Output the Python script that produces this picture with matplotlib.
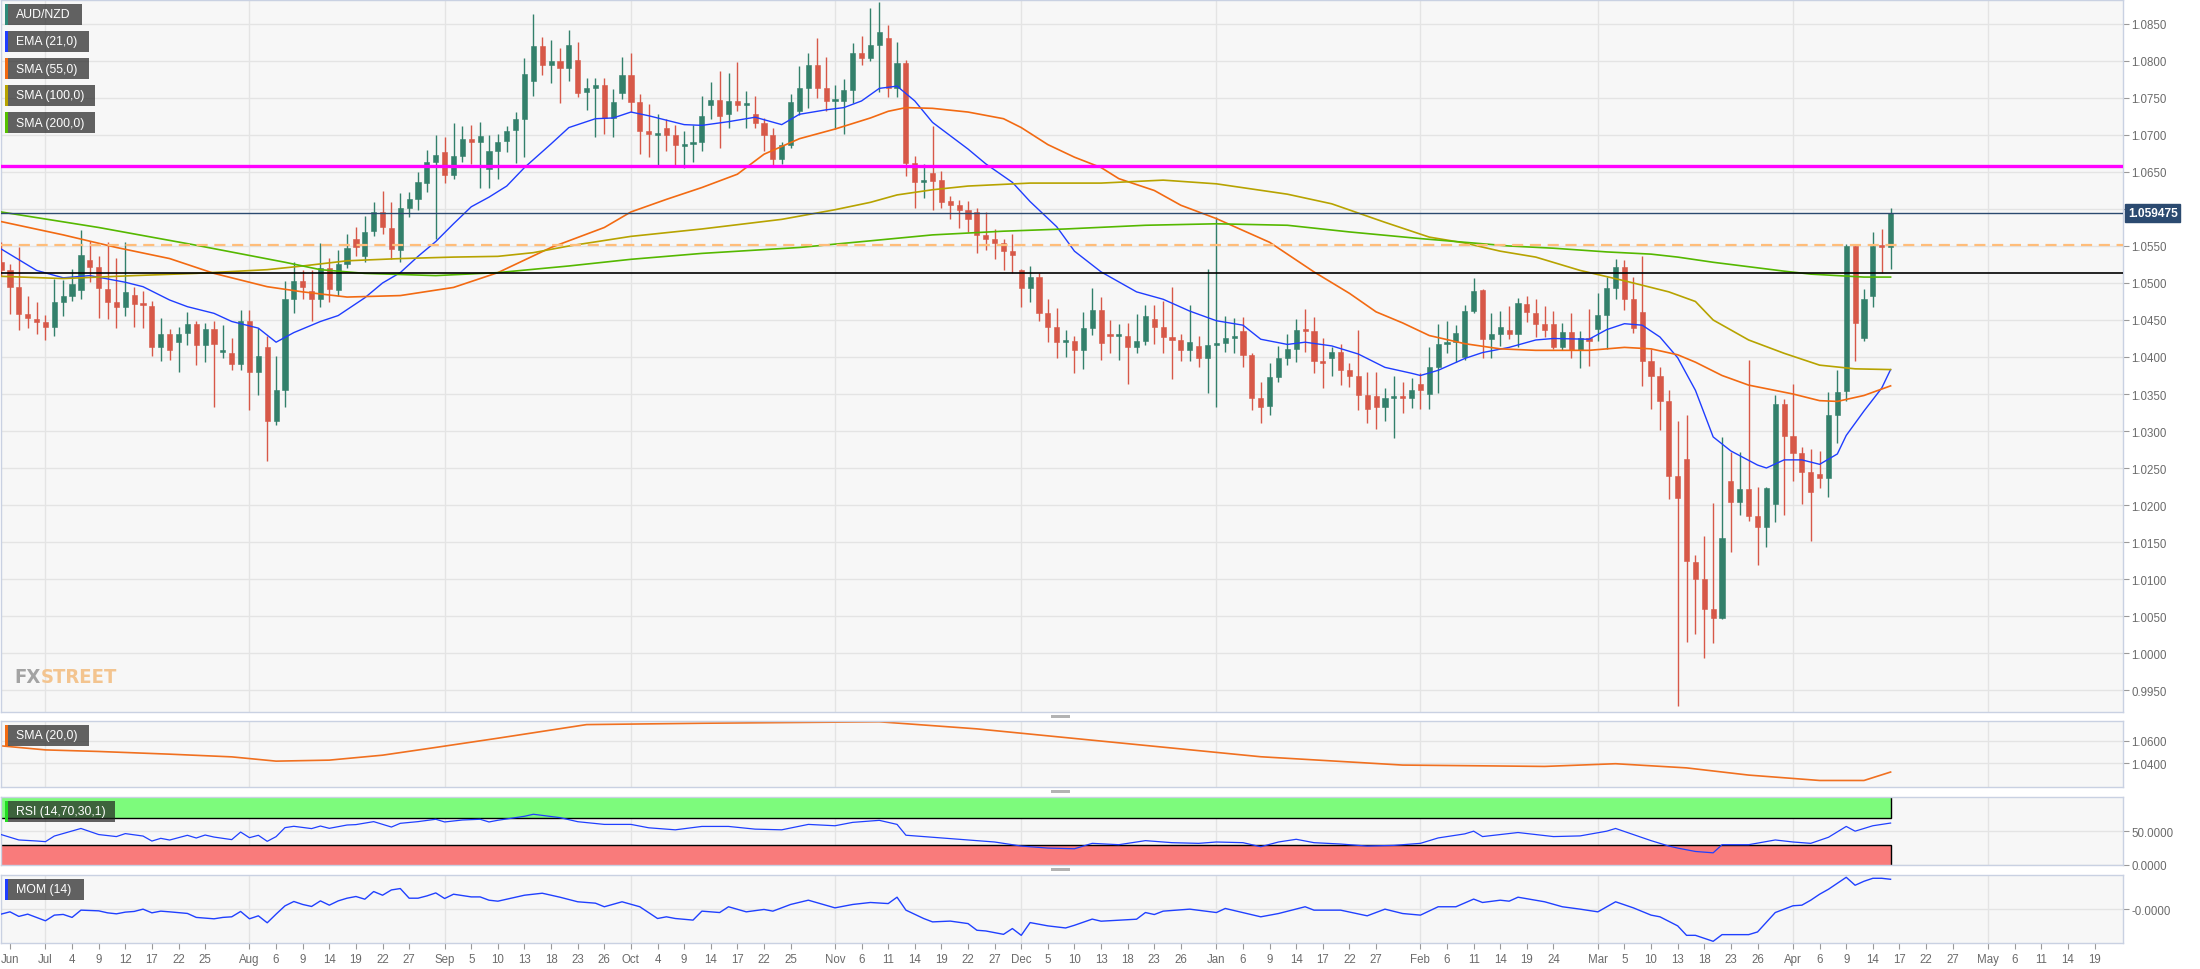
import numpy as np
import pandas as pd
import matplotlib
matplotlib.use("Agg")
import matplotlib.pyplot as plt
from matplotlib.patches import Rectangle

plt.rcParams["font.family"] = ["Liberation Sans", "DejaVu Sans"]

# ---- data (daily AUD/NZD, weekdays from 2019-06-24) ----
days = pd.bdate_range("2019-06-24", periods=240)

opens = [1.0528, 1.0518, 1.0494, 1.0458, 1.0452, 1.0447, 1.0441, 1.0474, 1.0483, 1.0490,
         1.0531, 1.0522, 1.0492, 1.0474, 1.0467, 1.0484, 1.0471, 1.0469, 1.0413, 1.0431,
         1.0420, 1.0432, 1.0444, 1.0416, 1.0438, 1.0407, 1.0406, 1.0391, 1.0449, 1.0380,
         1.0413, 1.0314, 1.0356, 1.0478, 1.0503, 1.0489, 1.0479, 1.0520, 1.0491, 1.0525,
         1.0560, 1.0537, 1.0570, 1.0596, 1.0574, 1.0544, 1.0601, 1.0614, 1.0635, 1.0663,
         1.0677, 1.0646, 1.0672, 1.0694, 1.0691, 1.0654, 1.0679, 1.0692, 1.0707, 1.0722,
         1.0773, 1.0820, 1.0795, 1.0800, 1.0791, 1.0801, 1.0758, 1.0763, 1.0767, 1.0723,
         1.0757, 1.0781, 1.0744, 1.0705, 1.0700, 1.0709, 1.0700, 1.0685, 1.0688, 1.0691,
         1.0741, 1.0747, 1.0728, 1.0746, 1.0741, 1.0728, 1.0716, 1.0700, 1.0668, 1.0687,
         1.0732, 1.0764, 1.0794, 1.0764, 1.0746, 1.0746, 1.0761, 1.0811, 1.0804, 1.0822,
         1.0831, 1.0763, 1.0797, 1.0662, 1.0636, 1.0648, 1.0639, 1.0611, 1.0606, 1.0599,
         1.0596, 1.0565, 1.0560, 1.0554, 1.0543, 1.0518, 1.0493, 1.0508, 1.0460, 1.0441,
         1.0420, 1.0421, 1.0409, 1.0439, 1.0463, 1.0430, 1.0428, 1.0429, 1.0413, 1.0422,
         1.0451, 1.0441, 1.0427, 1.0423, 1.0410, 1.0415, 1.0399, 1.0416, 1.0419, 1.0425,
         1.0435, 1.0403, 1.0345, 1.0334, 1.0373, 1.0398, 1.0411, 1.0437, 1.0435, 1.0394,
         1.0398, 1.0407, 1.0382, 1.0374, 1.0348, 1.0347, 1.0332, 1.0344, 1.0346, 1.0344,
         1.0363, 1.0350, 1.0387, 1.0418, 1.0420, 1.0400, 1.0462, 1.0490, 1.0424, 1.0431,
         1.0437, 1.0431, 1.0472, 1.0459, 1.0444, 1.0444, 1.0414, 1.0434, 1.0410, 1.0425,
         1.0438, 1.0457, 1.0493, 1.0521, 1.0478, 1.0461, 1.0395, 1.0374, 1.0341, 1.0239,
         1.0262, 1.0123, 1.0100, 1.0060, 1.0047, 1.0232, 1.0204, 1.0221, 1.0185, 1.0170,
         1.0201, 1.0336, 1.0293, 1.0270, 1.0244, 1.0242, 1.0237, 1.0322, 1.0354, 1.0550,
         1.0425, 1.0483, 1.0550, 1.0549]
highs = [1.0556, 1.0525, 1.0548, 1.0483, 1.0474, 1.0457, 1.0506, 1.0504, 1.0519, 1.0572,
         1.0557, 1.0536, 1.0555, 1.0534, 1.0555, 1.0495, 1.0489, 1.0475, 1.0453, 1.0438,
         1.0441, 1.0461, 1.0448, 1.0446, 1.0448, 1.0443, 1.0425, 1.0464, 1.0463, 1.0439,
         1.0428, 1.0401, 1.0503, 1.0528, 1.0518, 1.0518, 1.0554, 1.0534, 1.0545, 1.0566,
         1.0576, 1.0590, 1.0609, 1.0624, 1.0609, 1.0621, 1.0623, 1.0650, 1.0680, 1.0700,
         1.0697, 1.0716, 1.0712, 1.0714, 1.0717, 1.0700, 1.0701, 1.0712, 1.0731, 1.0804,
         1.0864, 1.0833, 1.0829, 1.0817, 1.0842, 1.0825, 1.0777, 1.0777, 1.0777, 1.0762,
         1.0805, 1.0811, 1.0756, 1.0742, 1.0728, 1.0721, 1.0714, 1.0705, 1.0713, 1.0753,
         1.0771, 1.0787, 1.0784, 1.0799, 1.0760, 1.0753, 1.0723, 1.0710, 1.0690, 1.0756,
         1.0793, 1.0811, 1.0831, 1.0806, 1.0767, 1.0776, 1.0824, 1.0834, 1.0871, 1.0880,
         1.0848, 1.0826, 1.0801, 1.0672, 1.0661, 1.0712, 1.0652, 1.0618, 1.0612, 1.0611,
         1.0602, 1.0596, 1.0573, 1.0560, 1.0566, 1.0519, 1.0523, 1.0514, 1.0479, 1.0466,
         1.0436, 1.0429, 1.0461, 1.0493, 1.0481, 1.0450, 1.0444, 1.0446, 1.0458, 1.0470,
         1.0470, 1.0475, 1.0495, 1.0431, 1.0470, 1.0429, 1.0519, 1.0589, 1.0456, 1.0453,
         1.0454, 1.0405, 1.0366, 1.0392, 1.0415, 1.0431, 1.0452, 1.0465, 1.0454, 1.0426,
         1.0414, 1.0418, 1.0392, 1.0436, 1.0380, 1.0380, 1.0358, 1.0375, 1.0366, 1.0372,
         1.0379, 1.0414, 1.0444, 1.0448, 1.0443, 1.0470, 1.0507, 1.0492, 1.0459, 1.0462,
         1.0469, 1.0480, 1.0483, 1.0479, 1.0469, 1.0462, 1.0446, 1.0460, 1.0435, 1.0465,
         1.0486, 1.0508, 1.0533, 1.0531, 1.0508, 1.0536, 1.0411, 1.0386, 1.0355, 1.0314,
         1.0322, 1.0132, 1.0158, 1.0203, 1.0292, 1.0272, 1.0272, 1.0396, 1.0224, 1.0224,
         1.0348, 1.0343, 1.0363, 1.0279, 1.0276, 1.0273, 1.0353, 1.0383, 1.0553, 1.0551,
         1.0492, 1.0569, 1.0573, 1.0601]
lows = [1.0509, 1.0458, 1.0437, 1.0439, 1.0431, 1.0423, 1.0429, 1.0455, 1.0475, 1.0479,
        1.0502, 1.0453, 1.0452, 1.0439, 1.0456, 1.0441, 1.0439, 1.0401, 1.0395, 1.0396,
        1.0380, 1.0416, 1.0389, 1.0393, 1.0332, 1.0399, 1.0383, 1.0382, 1.0329, 1.0348,
        1.0260, 1.0308, 1.0332, 1.0459, 1.0478, 1.0449, 1.0468, 1.0474, 1.0483, 1.0520,
        1.0537, 1.0529, 1.0564, 1.0566, 1.0533, 1.0528, 1.0589, 1.0598, 1.0623, 1.0560,
        1.0635, 1.0640, 1.0664, 1.0661, 1.0628, 1.0628, 1.0640, 1.0677, 1.0662, 1.0670,
        1.0753, 1.0781, 1.0770, 1.0743, 1.0773, 1.0751, 1.0734, 1.0697, 1.0701, 1.0697,
        1.0749, 1.0731, 1.0674, 1.0670, 1.0660, 1.0678, 1.0660, 1.0655, 1.0663, 1.0678,
        1.0722, 1.0682, 1.0710, 1.0733, 1.0710, 1.0709, 1.0678, 1.0660, 1.0661, 1.0683,
        1.0727, 1.0737, 1.0750, 1.0732, 1.0708, 1.0702, 1.0743, 1.0794, 1.0800, 1.0758,
        1.0752, 1.0751, 1.0644, 1.0601, 1.0615, 1.0598, 1.0601, 1.0586, 1.0574, 1.0569,
        1.0541, 1.0545, 1.0533, 1.0517, 1.0514, 1.0467, 1.0474, 1.0448, 1.0420, 1.0398,
        1.0400, 1.0378, 1.0384, 1.0430, 1.0396, 1.0406, 1.0396, 1.0363, 1.0406, 1.0416,
        1.0417, 1.0406, 1.0370, 1.0394, 1.0394, 1.0387, 1.0351, 1.0332, 1.0407, 1.0405,
        1.0387, 1.0329, 1.0311, 1.0321, 1.0366, 1.0389, 1.0393, 1.0407, 1.0379, 1.0358,
        1.0375, 1.0362, 1.0360, 1.0328, 1.0311, 1.0303, 1.0313, 1.0291, 1.0325, 1.0331,
        1.0330, 1.0330, 1.0352, 1.0406, 1.0393, 1.0396, 1.0460, 1.0398, 1.0398, 1.0415,
        1.0424, 1.0414, 1.0447, 1.0427, 1.0427, 1.0411, 1.0409, 1.0398, 1.0385, 1.0388,
        1.0421, 1.0411, 1.0478, 1.0464, 1.0432, 1.0361, 1.0330, 1.0302, 1.0208, 0.9928,
        1.0015, 1.0026, 0.9993, 1.0014, 1.0046, 1.0137, 1.0186, 1.0179, 1.0119, 1.0143,
        1.0177, 1.0187, 1.0232, 1.0201, 1.0151, 1.0223, 1.0211, 1.0284, 1.0340, 1.0394,
        1.0421, 1.0468, 1.0513, 1.0519]
closes = [1.0518, 1.0494, 1.0458, 1.0453, 1.0447, 1.0441, 1.0474, 1.0483, 1.0499, 1.0538,
          1.0522, 1.0493, 1.0474, 1.0467, 1.0488, 1.0471, 1.0470, 1.0413, 1.0431, 1.0409,
          1.0431, 1.0444, 1.0416, 1.0438, 1.0418, 1.0408, 1.0391, 1.0448, 1.0380, 1.0402,
          1.0314, 1.0356, 1.0478, 1.0503, 1.0494, 1.0479, 1.0520, 1.0492, 1.0525, 1.0547,
          1.0549, 1.0569, 1.0596, 1.0575, 1.0546, 1.0601, 1.0614, 1.0636, 1.0663, 1.0673,
          1.0646, 1.0671, 1.0694, 1.0691, 1.0699, 1.0679, 1.0691, 1.0706, 1.0722, 1.0782,
          1.0820, 1.0794, 1.0800, 1.0791, 1.0822, 1.0757, 1.0763, 1.0768, 1.0723, 1.0745,
          1.0781, 1.0744, 1.0705, 1.0701, 1.0702, 1.0700, 1.0686, 1.0688, 1.0690, 1.0725,
          1.0747, 1.0726, 1.0746, 1.0741, 1.0742, 1.0716, 1.0700, 1.0668, 1.0687, 1.0744,
          1.0764, 1.0794, 1.0764, 1.0746, 1.0747, 1.0761, 1.0811, 1.0804, 1.0822, 1.0839,
          1.0763, 1.0797, 1.0662, 1.0636, 1.0637, 1.0638, 1.0610, 1.0606, 1.0599, 1.0586,
          1.0565, 1.0560, 1.0554, 1.0543, 1.0538, 1.0493, 1.0508, 1.0460, 1.0441, 1.0420,
          1.0421, 1.0409, 1.0439, 1.0464, 1.0419, 1.0428, 1.0430, 1.0413, 1.0422, 1.0455,
          1.0441, 1.0427, 1.0423, 1.0410, 1.0420, 1.0399, 1.0416, 1.0419, 1.0425, 1.0427,
          1.0403, 1.0345, 1.0332, 1.0373, 1.0398, 1.0411, 1.0437, 1.0435, 1.0394, 1.0392,
          1.0407, 1.0382, 1.0374, 1.0348, 1.0330, 1.0332, 1.0344, 1.0346, 1.0344, 1.0356,
          1.0356, 1.0387, 1.0418, 1.0420, 1.0432, 1.0462, 1.0489, 1.0424, 1.0431, 1.0440,
          1.0431, 1.0473, 1.0461, 1.0444, 1.0436, 1.0414, 1.0434, 1.0410, 1.0425, 1.0422,
          1.0457, 1.0493, 1.0521, 1.0478, 1.0439, 1.0395, 1.0375, 1.0341, 1.0239, 1.0209,
          1.0124, 1.0100, 1.0060, 1.0047, 1.0155, 1.0204, 1.0221, 1.0185, 1.0170, 1.0223,
          1.0336, 1.0293, 1.0270, 1.0244, 1.0218, 1.0237, 1.0322, 1.0353, 1.0550, 1.0446,
          1.0478, 1.0550, 1.0548, 1.0595]
last_price = 1.059475

# moving averages (day number, value)
ema21_day = [0, 4, 7, 10, 14, 16, 19, 21, 24, 26, 29, 31, 33, 36, 38, 41, 43, 45, 47, 49, 51, 53, 55, 57, 59,
             62, 64, 67, 69, 71, 73, 75, 77, 79, 82, 85, 88, 90, 93, 95, 97, 99, 101, 103, 105, 109, 111, 114,
             116, 119, 121, 124, 128, 131, 134, 137, 140, 142, 145, 147, 150, 153, 156, 159, 160, 162, 165,
             167, 170, 173, 175, 179, 181, 183, 185, 187, 189, 191, 193, 195, 198, 199, 201, 203, 205, 207,
             208, 210, 212, 213]
ema21_val = [1.0546, 1.0517, 1.0507, 1.0510, 1.0501, 1.0495, 1.0477, 1.0468, 1.0459, 1.0448, 1.0439, 1.0420,
             1.0433, 1.0448, 1.0456, 1.0480, 1.0500, 1.0514, 1.0536, 1.0556, 1.0580, 1.0603, 1.0616, 1.0631,
             1.0656, 1.0688, 1.0710, 1.0722, 1.0723, 1.0731, 1.0726, 1.0720, 1.0714, 1.0713, 1.0718, 1.0724,
             1.0714, 1.0728, 1.0734, 1.0737, 1.0746, 1.0763, 1.0766, 1.0746, 1.0717, 1.0681, 1.0661, 1.0636,
             1.0610, 1.0576, 1.0543, 1.0515, 1.0488, 1.0478, 1.0462, 1.0449, 1.0443, 1.0424, 1.0417, 1.0420,
             1.0415, 1.0404, 1.0386, 1.0378, 1.0375, 1.0382, 1.0398, 1.0406, 1.0413, 1.0423, 1.0425, 1.0424,
             1.0437, 1.0445, 1.0443, 1.0427, 1.0399, 1.0355, 1.0292, 1.0273, 1.0254, 1.0250, 1.0261, 1.0261,
             1.0255, 1.0269, 1.0294, 1.0327, 1.0358, 1.0383]
sma55_day = [0, 7, 13, 19, 24, 30, 34, 39, 45, 51, 56, 62, 68, 71, 75, 79, 83, 86, 90, 94, 98, 100, 102, 105,
             109, 113, 115, 118, 121, 124, 126, 130, 133, 137, 143, 148, 152, 155, 158, 161, 165, 169, 173,
             179, 183, 186, 189, 191, 194, 197, 202, 205, 207, 210, 213]
sma55_val = [1.0583, 1.0565, 1.0548, 1.0533, 1.0513, 1.0495, 1.0488, 1.0481, 1.0483, 1.0494, 1.0514, 1.0548,
             1.0575, 1.0596, 1.0613, 1.0629, 1.0647, 1.0674, 1.0695, 1.0708, 1.0723, 1.0732, 1.0737, 1.0736,
             1.0731, 1.0722, 1.0710, 1.0687, 1.0670, 1.0656, 1.0641, 1.0625, 1.0605, 1.0587, 1.0555, 1.0515,
             1.0486, 1.0461, 1.0446, 1.0429, 1.0418, 1.0411, 1.0409, 1.0409, 1.0413, 1.0411, 1.0403, 1.0393,
             1.0375, 1.0362, 1.0350, 1.0341, 1.0340, 1.0348, 1.0361]
sma100_day = [0, 7, 15, 22, 30, 34, 39, 45, 51, 56, 60, 64, 71, 79, 88, 94, 98, 101, 105, 109, 116, 124, 131,
              137, 145, 150, 156, 161, 165, 169, 173, 178, 183, 188, 191, 193, 197, 201, 205, 209, 213]
sma100_val = [1.0509, 1.0506, 1.0510, 1.0513, 1.0518, 1.0523, 1.0530, 1.0533, 1.0535, 1.0536, 1.0541, 1.0550,
              1.0563, 1.0573, 1.0586, 1.0599, 1.0609, 1.0619, 1.0626, 1.0631, 1.0635, 1.0635, 1.0639, 1.0634,
              1.0620, 1.0607, 1.0582, 1.0562, 1.0554, 1.0543, 1.0535, 1.0517, 1.0503, 1.0488, 1.0475, 1.0450,
              1.0423, 1.0405, 1.0389, 1.0384, 1.0383]
sma200_day = [0, 11, 22, 32, 36, 41, 49, 56, 64, 71, 79, 90, 98, 105, 113, 120, 129, 137, 145, 152, 160, 165,
              170, 175, 181, 186, 189, 193, 197, 201, 204, 207, 210, 213]
sma200_val = [1.0596, 1.0575, 1.0551, 1.0528, 1.0518, 1.0513, 1.0510, 1.0514, 1.0523, 1.0532, 1.0540, 1.0548,
              1.0557, 1.0565, 1.0570, 1.0573, 1.0578, 1.0580, 1.0578, 1.0569, 1.0560, 1.0555, 1.0550, 1.0547,
              1.0542, 1.0539, 1.0535, 1.0528, 1.0522, 1.0516, 1.0512, 1.0510, 1.0508, 1.0508]

# horizontal levels
level_magenta = 1.06577
level_dashed = 1.0551
level_black = 1.0514

# lower panels
sma20_day = [0, 5, 11, 19, 26, 31, 37, 43, 49, 56, 66, 79, 99, 110, 126, 142, 158, 174, 182, 190, 197,
             205, 210, 213]
sma20_val = [1.0556, 1.0520, 1.0506, 1.0482, 1.0458, 1.0420, 1.0429, 1.0473, 1.0542, 1.0624, 1.0745, 1.0757,
             1.0770, 1.0707, 1.0583, 1.0459, 1.0385, 1.0373, 1.0397, 1.0360, 1.0296, 1.0248, 1.0248, 1.0323]
rsi_day = [0, 2, 4, 5, 6, 9, 11, 13, 14, 16, 17, 18, 19, 21, 22, 23, 24, 26, 27, 28, 29, 30, 31, 32, 33,
           35, 36, 37, 39, 40, 42, 44, 45, 47, 49, 50, 52, 54, 55, 56, 59, 60, 63, 65, 68, 71, 73, 76, 79,
           82, 85, 88, 91, 94, 96, 99, 101, 102, 104, 106, 109, 112, 115, 118, 121, 123, 126, 129, 132,
           135, 137, 140, 142, 144, 146, 148, 151, 154, 157, 160, 162, 165, 166, 167, 171, 175, 178, 181,
           182, 184, 186, 188, 189, 191, 193, 194, 197, 200, 202, 204, 206, 208, 209, 211, 213]
rsi_val = [45, 37, 35.5, 34.5, 42.8, 54, 45, 42, 46.4, 42.8, 35.4, 39.4, 36.9, 43.9, 39.9, 44.3, 41.3, 37.5,
           48.7, 40.4, 43.9, 35, 41.9, 55.2, 57.2, 53.8, 57.6, 54.2, 59.1, 59.7, 64.1, 56.1, 61.6, 64.1,
           67.6, 63.6, 66.5, 67.6, 63.6, 66.1, 72, 75, 70, 64, 60, 60, 55, 52, 57, 57, 53, 52, 60, 58, 63,
           66, 60, 44, 42, 40, 37, 34, 28, 25, 24, 32, 30, 36, 33, 32, 34, 33, 27, 34, 38, 33, 31, 28, 29,
           32, 40, 46, 50, 42, 48, 42, 43, 50, 54, 45, 36, 28, 25, 20, 18, 30, 30, 37, 34, 32, 41, 57, 50,
           58, 62]
mom_day = [0, 1, 2, 3, 5, 6, 7, 8, 9, 11, 12, 13, 14, 15, 16, 17, 18, 19, 21, 22, 24, 25, 26, 27, 28, 29,
           30, 31, 32, 33, 34, 35, 36, 37, 38, 39, 40, 41, 42, 43, 44, 45, 46, 47, 48, 49, 50, 51, 53, 54,
           55, 56, 57, 59, 61, 63, 65, 67, 68, 70, 72, 74, 75, 76, 78, 79, 81, 82, 84, 86, 87, 89, 91, 94,
           96, 98, 100, 101, 102, 104, 105, 107, 109, 110, 111, 113, 114, 115, 116, 118, 120, 121, 123,
           124, 128, 129, 130, 131, 134, 137, 138, 142, 144, 147, 148, 151, 154, 156, 158, 160, 162, 164,
           166, 167, 169, 170, 171, 174, 176, 178, 180, 182, 184, 186, 187, 189, 190, 191, 193, 194, 197,
           198, 200, 202, 203, 204, 205, 206, 207, 208, 209, 210, 211, 212, 213]
mom_val = [-0.0050, -0.0027, -0.0073, -0.0050, -0.0117, -0.0060, -0.0053, -0.0083, -0.0010, -0.0017,
           -0.0037, -0.0047, -0.0030, -0.0023, 0.0000, -0.0037, -0.0020, -0.0027, -0.0043, -0.0083, -0.0097,
           -0.0083, -0.0077, -0.0023, -0.0097, -0.0067, -0.0137, -0.0050, 0.0033, 0.0077, 0.0047, 0.0027,
           0.0083, 0.0040, 0.0083, 0.0110, 0.0127, 0.0100, 0.0177, 0.0140, 0.0193, 0.0207, 0.0110, 0.0110,
           0.0133, 0.0163, 0.0107, 0.0150, 0.0123, 0.0123, 0.0090, 0.0080, 0.0100, 0.0140, 0.0160, 0.0120,
           0.0074, 0.0060, 0.0024, 0.0074, 0.0024, -0.0094, -0.0077, -0.0094, -0.0110, -0.0020, -0.0034,
           0.0024, -0.0027, -0.0003, -0.0020, 0.0047, 0.0090, 0.0013, 0.0047, 0.0067, 0.0056, 0.0120,
           -0.0010, -0.0094, -0.0128, -0.0120, -0.0145, -0.0212, -0.0219, -0.0253, -0.0195, -0.0263,
           -0.0135, -0.0168, -0.0189, -0.0162, -0.0100, -0.0121, -0.0101, -0.0034, -0.0054, -0.0020, 0.0000,
           -0.0034, 0.0007, -0.0077, -0.0044, 0.0024, -0.0010, -0.0010, -0.0067, 0.0000, -0.0044, -0.0060,
           0.0024, 0.0024, 0.0101, 0.0067, 0.0090, 0.0080, 0.0120, 0.0074, 0.0024, 0.0000, -0.0027, 0.0074,
           0.0013, -0.0060, -0.0077, -0.0168, -0.0263, -0.0263, -0.0323, -0.0256, -0.0256, -0.0229, -0.0034,
           0.0034, 0.0040, 0.0090, 0.0150, 0.0200, 0.0260, 0.0320, 0.0240, 0.0280, 0.0310, 0.0310, 0.0300]

# x axis labels
tick_dates = ["2019-06-25", "2019-07-01", "2019-07-04", "2019-07-09", "2019-07-12", "2019-07-17",
              "2019-07-22", "2019-07-25", "2019-08-01", "2019-08-06", "2019-08-09", "2019-08-14",
              "2019-08-19", "2019-08-22", "2019-08-27", "2019-09-02", "2019-09-05", "2019-09-10",
              "2019-09-13", "2019-09-18", "2019-09-23", "2019-09-26", "2019-10-01", "2019-10-04",
              "2019-10-09", "2019-10-14", "2019-10-17", "2019-10-22", "2019-10-25", "2019-11-01",
              "2019-11-06", "2019-11-11", "2019-11-14", "2019-11-19", "2019-11-22", "2019-11-27",
              "2019-12-02", "2019-12-05", "2019-12-10", "2019-12-13", "2019-12-18", "2019-12-23",
              "2019-12-26", "2020-01-01", "2020-01-06", "2020-01-09", "2020-01-14", "2020-01-17",
              "2020-01-22", "2020-01-27", "2020-02-03", "2020-02-06", "2020-02-11", "2020-02-14",
              "2020-02-19", "2020-02-24", "2020-03-02", "2020-03-05", "2020-03-10", "2020-03-13",
              "2020-03-18", "2020-03-23", "2020-03-26", "2020-04-01", "2020-04-06", "2020-04-09",
              "2020-04-14", "2020-04-17", "2020-04-22", "2020-04-27", "2020-05-01", "2020-05-06",
              "2020-05-11", "2020-05-14", "2020-05-19"]
tick_labels = ["Jun", "Jul", "4", "9", "12", "17", "22", "25", "Aug", "6", "9", "14", "19", "22", "27",
               "Sep", "5", "10", "13", "18", "23", "26", "Oct", "4", "9", "14", "17", "22", "25",
               "Nov", "6", "11", "14", "19", "22", "27", "Dec", "5", "10", "13", "18", "23", "26",
               "Jan", "6", "9", "14", "17", "22", "27", "Feb", "6", "11", "14", "19", "24",
               "Mar", "5", "10", "13", "18", "23", "26", "Apr", "6", "9", "14", "17", "22", "27",
               "May", "6", "11", "14", "19"]
month_starts = ["2019-07-01", "2019-08-01", "2019-09-02", "2019-10-01", "2019-11-01", "2019-12-02",
                "2020-01-01", "2020-02-03", "2020-03-02", "2020-04-01", "2020-05-01"]

# ---- figure ----
W, H = 2200, 970
fig = plt.figure(figsize=(22, 9.7), dpi=100)
fig.patch.set_facecolor("white")

GREEN = "#33806b"
RED = "#d75848"
BG = "#f7f7f7"
GRID = "#e4e4e4"
SPINE = "#c9d1e2"
TXT = "#6b6b6b"


def panel(top, bottom):
    return fig.add_axes([0.0005, 1 - bottom / H, 2123 / W - 0.0005, (bottom - top) / H])


ax = panel(1, 713)
ax_sma = panel(722, 788)
ax_rsi = panel(798, 866)
ax_mom = panel(876, 944)
axes = [ax, ax_sma, ax_rsi, ax_mom]

tick_pos = days.get_indexer(pd.to_datetime(tick_dates))
month_pos = days.get_indexer(pd.to_datetime(month_starts))

for a in axes:
    a.set_facecolor(BG)
    for s in a.spines.values():
        s.set_color(SPINE)
        s.set_linewidth(1)
    a.set_xlim(0.0, 239.2)
    for p in month_pos:
        a.axvline(p, color=GRID, lw=1, zorder=0)
    a.yaxis.tick_right()
    a.tick_params(axis="y", length=4, color="#9a9a9a", labelcolor=TXT, labelsize=8.3, pad=2)
    a.tick_params(axis="x", bottom=False, labelbottom=False)
    a.grid(axis="y", color=GRID, lw=1, zorder=0)
    a.set_axisbelow(True)

# candles
x = np.arange(len(closes))
o, hi, lo, c = map(np.array, (opens, highs, lows, closes))
up = c >= o
body_lo = np.minimum(o, c)
body_h = np.maximum(np.abs(c - o), 0.00028)
for mask, col in ((up, GREEN), (~up, RED)):
    ax.vlines(x[mask], lo[mask], hi[mask], color=col, lw=1.0, zorder=3)
    ax.bar(x[mask], body_h[mask], bottom=body_lo[mask], width=0.58, color=col,
           edgecolor=col, lw=0.4, zorder=4)

ax.plot(ema21_day, ema21_val, color="#1f3dff", lw=1.0, zorder=5)
ax.plot(sma55_day, sma55_val, color="#f26a12", lw=1.2, zorder=5)
ax.plot(sma100_day, sma100_val, color="#b7a300", lw=1.2, zorder=5)
ax.plot(sma200_day, sma200_val, color="#55b800", lw=1.2, zorder=5)

ax.axhline(level_magenta, color="#ff00ff", lw=2.4, zorder=6)
ax.axhline(last_price, color="#2b4a70", lw=1.0, zorder=6)
ax.axhline(level_dashed, color="#ffbd7a", lw=1.6, ls=(0, (5, 3)), zorder=6)
ax.axhline(level_black, color="black", lw=1.2, zorder=6)

ax.set_ylim(0.99203, 1.08824)
yt = np.round(np.arange(0.995, 1.0851, 0.005), 4)
ax.set_yticks(yt)
ax.set_yticklabels([f"{v:.4f}" for v in yt])

# SMA(20) panel
ax_sma.plot(sma20_day, sma20_val, color="#f07020", lw=1.2)
ax_sma.set_ylim(1.0190, 1.0777)
ax_sma.set_yticks([1.04, 1.06])
ax_sma.set_yticklabels(["1.0400", "1.0600"])

# RSI panel
last = len(closes) - 1
ax_rsi.add_patch(Rectangle((-1, 70), last + 1, 32, fc="#7dfb7c", ec="black", lw=1, zorder=1))
ax_rsi.add_patch(Rectangle((-1, -2), last + 1, 32, fc="#f97b7b", ec="black", lw=1, zorder=1))
ax_rsi.plot(rsi_day, rsi_val, color="#2040ff", lw=0.9, zorder=3)
ax_rsi.set_ylim(0, 100.5)
ax_rsi.set_yticks([0, 50])
ax_rsi.set_yticklabels(["0.0000", "50.0000"])

# MOM panel
ax_mom.plot(mom_day, mom_val, color="#2040ff", lw=1.0, zorder=3)
ax_mom.set_ylim(-0.034, 0.0343)
ax_mom.set_yticks([0])
ax_mom.set_yticklabels(["-0.0000"])
ax_mom.set_xticks(tick_pos)
ax_mom.set_xticklabels(tick_labels)
ax_mom.tick_params(axis="x", bottom=True, labelbottom=True, length=4, color="#9a9a9a",
                   labelcolor=TXT, labelsize=8.3, pad=3)


# label boxes
def tag(x0, y0, w, h, stripe, text):
    fig.add_artist(Rectangle((x0 / W, 1 - (y0 + h) / H), w / W, h / H, transform=fig.transFigure,
                             fc="#222222", alpha=0.7, lw=0, zorder=10))
    fig.add_artist(Rectangle((x0 / W, 1 - (y0 + h) / H), 2.5 / W, h / H, transform=fig.transFigure,
                             fc=stripe, lw=0, zorder=11))
    fig.text((x0 + 11) / W, 1 - (y0 + h / 2) / H, text, color="white", fontsize=8.8,
             va="center", ha="left", zorder=12)


tag(5, 5, 77, 21, "#2e8b7a", "AUD/NZD")
tag(5, 32, 84, 21, "#1f3dff", "EMA (21,0)")
tag(5, 59, 84, 21, "#f26a12", "SMA (55,0)")
tag(5, 86, 90, 21, "#b7a300", "SMA (100,0)")
tag(5, 113, 90, 21, "#55c000", "SMA (200,0)")
tag(5, 726, 84, 21, "#f26a12", "SMA (20,0)")
tag(5, 802, 110, 21, "#22dd22", "RSI (14,70,30,1)")
tag(5, 880, 79, 21, "#1f3dff", "MOM (14)")

# current price box
fig.text(2128 / W, 1 - 214 / H, f"{last_price:.6f}", color="white", fontsize=8.6, fontweight="bold",
         va="center", ha="left", zorder=12,
         bbox=dict(boxstyle="square,pad=0.22", fc="#2b4a70", ec="#2b4a70"))

# panel separator handles
for yy in (716, 791, 869):
    fig.add_artist(Rectangle((1051 / W, 1 - (yy + 3) / H), 19 / W, 3 / H, transform=fig.transFigure,
                             fc="#b3b3b3", lw=0, zorder=10))

# watermark
wm_font = dict(fontsize=14.5, fontweight="bold", fontstretch="condensed",
               family=["DejaVu Sans", "Liberation Sans"], zorder=9)
fx = fig.text(14 / W, 1 - 678 / H, "FX", color="#a3a3a3", va="center", ha="left", **wm_font)
ax.annotate("STREET", xy=(1, 0), xycoords=fx, va="bottom", ha="left", color="#f3c48f", **wm_font)

fig.savefig("out.png", dpi=100)
